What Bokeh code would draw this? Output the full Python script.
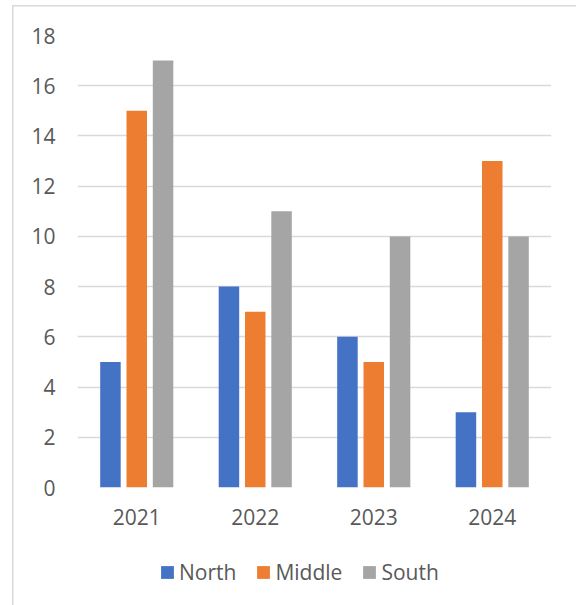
from bokeh.plotting import figure
from bokeh.models import (ColumnDataSource, FactorRange, Range1d, FixedTicker,
                          Legend, LegendItem)
from bokeh.layouts import column
from bokeh.transform import dodge
from bokeh.embed import file_html
from bokeh.resources import INLINE

years = ["2021", "2022", "2023", "2024"]
north = [5, 8, 6, 3]
middle = [15, 7, 5, 13]
south = [17, 11, 10, 10]
y_ticks = [0, 2, 4, 6, 8, 10, 12, 14, 16, 18]

series_names = ["North", "Middle", "South"]
colors = ["#4472C4", "#ED7D31", "#A5A5A5"]

src = ColumnDataSource(dict(year=years, North=north, Middle=middle, South=south))

FONT = "Open Sans"
FSIZE = "21px"
TXT = "#595959"
GRID = "#D9D9D9"

bg_main = ("linear-gradient(#D9D9D9,#D9D9D9) 12px 5px / 1.5px 100% no-repeat, "
           "linear-gradient(#D9D9D9,#D9D9D9) 12px 5px / 100% 1.5px no-repeat, white")
bg_leg = "linear-gradient(#D9D9D9,#D9D9D9) 12px 0px / 1.5px 100% no-repeat, white"

H1 = 545
p = figure(width=576, height=H1, x_range=FactorRange(*years), y_range=Range1d(0, 18),
           output_backend="svg", toolbar_location=None,
           min_border_left=77, min_border_right=25, min_border_top=35,
           min_border_bottom=H1 - 487,
           styles={"background": bg_main})
p.outline_line_color = None
p.background_fill_color = "white"
p.border_fill_alpha = 0

offsets = [-0.222, 0.0, 0.222]
for name, c, off in zip(series_names, colors, offsets):
    p.vbar(x=dodge("year", off, range=p.x_range), top=name, width=0.173, bottom=0,
           source=src, fill_color=c, line_color=None)

p.xgrid.grid_line_color = None
p.ygrid.grid_line_color = GRID
p.ygrid.grid_line_width = 1.3
p.yaxis.ticker = FixedTicker(ticks=y_ticks)

for ax in (p.xaxis[0], p.yaxis[0]):
    ax.axis_line_color = None
    ax.major_tick_line_color = None
    ax.minor_tick_line_color = None
    ax.major_tick_out = 0
    ax.major_tick_in = 0
    ax.minor_tick_out = 0
    ax.major_label_text_font = FONT
    ax.major_label_text_font_size = FSIZE
    ax.major_label_text_color = TXT
p.yaxis.major_label_standoff = 22
p.xaxis.major_label_standoff = 21

# legend strip below the chart
H2 = 605 - H1
q = figure(width=576, height=H2, x_range=Range1d(0, 576), y_range=Range1d(0, H2),
           output_backend="svg", toolbar_location=None,
           x_axis_location=None, y_axis_location=None,
           min_border=0, min_border_left=0, min_border_right=0,
           min_border_top=0, min_border_bottom=0,
           styles={"background": bg_leg})
q.outline_line_color = None
q.background_fill_alpha = 0
q.border_fill_alpha = 0
q.grid.visible = False

leg_src = ColumnDataSource(dict(x=[-10.0], top=[0.0]))
leg_renderers = []
for name, c in zip(series_names, colors):
    r = q.vbar(x="x", top="top", width=1, bottom=0, source=leg_src,
               fill_color=c, line_color=None)
    leg_renderers.append(r)

legend = Legend(items=[LegendItem(label=n, renderers=[r]) for n, r in zip(series_names, leg_renderers)],
                orientation="horizontal", location=(82, 19),
                glyph_width=16, glyph_height=16, label_standoff=4, spacing=19,
                padding=0, margin=0, border_line_color=None, background_fill_alpha=0,
                label_text_font=FONT, label_text_font_size=FSIZE, label_text_color=TXT,
                label_height=16)
q.add_layout(legend, "center")

layout = column(p, q, spacing=0)
open("out.html", "w").write(file_html(layout, INLINE))
